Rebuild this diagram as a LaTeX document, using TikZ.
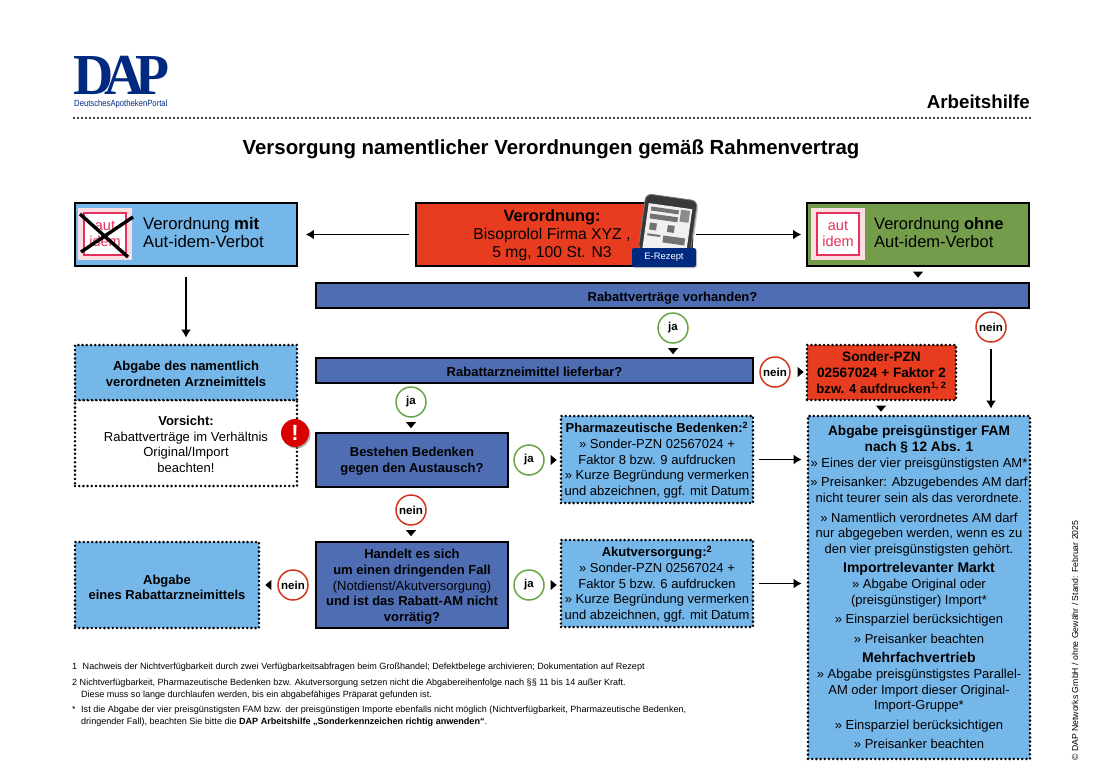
\documentclass[tikz,border=0pt]{standalone}
\usepackage{fontspec}
\setmainfont{Liberation Sans}
\newfontfamily\logofont{Liberation Serif}
\usepackage{xcolor}
\usetikzlibrary{shapes.geometric,arrows.meta,shadows}
\definecolor{lblue}{HTML}{76B7EA}
\definecolor{dblue}{HTML}{4E6DB3}
\definecolor{rbox}{HTML}{E73C1F}
\definecolor{gbox}{HTML}{739C4B}
\definecolor{nblue}{HTML}{002A7F}
\definecolor{stamp}{HTML}{E6305A}
\newcommand{\fs}[1]{\fontsize{#1}{15.7}\selectfont}
\newcommand{\tp}[1]{\rule{0pt}{#1pt}}
\newcommand{\hd}[1]{{\fs{14}\bfseries #1}}

\begin{document}
\begin{tikzpicture}[
  x=1pt,y=-1pt,>={Latex[length=8pt,width=10pt]},
  box/.style={draw,line width=1.8pt,align=center,inner sep=0pt,font=\fs{13}},
  bar/.style={box,fill=dblue,font=\fs{13}\bfseries},
  dots/.style={box,draw,line width=2.8pt,line cap=round,dash pattern=on 0pt off 4.2pt},
  hell/.style={dots,fill=lblue},
  circ/.style={circle,draw,fill=white,line width=1.5pt,minimum size=30pt,inner sep=0pt,font=\fs{11.5}\bfseries},
  jac/.style={circ,draw=gbox!90!green},
  neinc/.style={circ,draw=rbox!90!black},
  tip/.style={isosceles triangle,isosceles triangle apex angle=80,fill=black,inner sep=0pt,minimum size=6pt},
  arr/.style={->,line width=1.7pt},
  pics/stempel/.style={code={
    \fill[stamp!16] (-27,-26) rectangle (27,26);
    \filldraw[draw=stamp,fill=white,line width=1.8pt] (-21,-21) rectangle (21,21);
    \node[align=center,text=stamp,font=\fontsize{14.5}{16}\selectfont] (-t) {aut\\idem};
  }}]
\useasboundingbox (0,0) rectangle (1100,777);

% head
\node[anchor=south west,inner sep=0pt,text depth=0pt,text height=38pt,text=nblue,font=\logofont\bfseries\fontsize{58}{58}\selectfont] (logo) at (73,95) {\scalebox{.96}[1]{D\kern-9ptA\kern-10ptP}};
\node[anchor=west,inner sep=0pt,text=nblue,font=\fs{9}] (portal) at (74,104.5) {\scalebox{.855}[1]{DeutschesApothekenPortal}};
\node[anchor=east,inner sep=0pt,font=\fs{18.7}\bfseries] (hilfe) at (1030,102) {Arbeitshilfe};
\coordinate (l1) at (74,118); \coordinate (l2) at (1031,118);
\draw[line width=2.4pt,line cap=round,dash pattern=on 0pt off 4pt] (l1)--(l2);
\node[inner sep=0pt,font=\fs{20.4}\bfseries] (title) at (551,149) {Versorgung namentlicher Verordnungen gemäß Rahmenvertrag};

% top row
\node[box,fill=lblue,minimum width=222pt,minimum height=63pt] (mit) at (186,234.5) {};
\node[box,fill=rbox,minimum width=276pt,minimum height=63pt] (vo) at (554,234.5) {};
\node[box,fill=gbox,minimum width=222pt,minimum height=63pt] (ohne) at (918,234.5) {};
\pic (sa) at (105,234) {stempel};
\draw[line width=3.4pt] (81,252)--(133,217) (80,214)--(128,257);
\pic (sb) at (838,234) {stempel};
\node[anchor=west,align=left,inner sep=0pt,font=\fontsize{16.7}{18}\selectfont] (mitt) at (143,233) {Verordnung \textbf{mit}\\Aut-idem-Verbot};
\node[anchor=west,align=left,inner sep=0pt,font=\fontsize{16.5}{18}\selectfont] (ohnet) at (874,233) {Verordnung \textbf{ohne}\\Aut-idem-Verbot};
\node[align=center,inner sep=0pt,font=\fontsize{15.7}{18}\selectfont] (vot) at (552,235) {\textbf{\fontsize{16.3}{18}\selectfont Verordnung:}\\Bisoprolol Firma XYZ ,\\5 mg, 100 St. N3};

% phone
\begin{scope}[shift={(668,224)},rotate=-8]
  \filldraw[draw=black!50,fill=black!78,rounded corners=6pt,line width=.8pt,drop shadow={shadow xshift=1.5pt,shadow yshift=-1.5pt,opacity=.4}] (-26,-27) rectangle (26,30);
  \fill[black!6] (-22,-18) rectangle (22,30);
  \fill[black!55] (-19,-15) rectangle (9,-11) (-19,-8) rectangle (9,-3) (-18,1) rectangle (-11,8) (0,1) rectangle (7,8) (-3,12) rectangle (19,19) (-19,12) rectangle (-6,14);
  \fill[black!45] (11,-16) rectangle (20,-4);
\end{scope}
\node[fill=nblue,text=white,rounded corners=2pt,minimum width=64pt,minimum height=19pt,inner sep=0pt,font=\fs{9.4},drop shadow={shadow xshift=1pt,shadow yshift=-1pt,opacity=.4}] (erez) at (664,257.5) {E-Rezept};

% left side
\node[dots,minimum width=222pt,minimum height=86pt] (vors) at (186,443) {\tp{12}\textbf{Vorsicht:}\\Rabattverträge im Verhältnis\\Original/Import\\beachten!};
\node[hell,minimum width=222pt,minimum height=55pt,font=\fs{13}\bfseries] (nam) at (186,372.5) {\tp{12}Abgabe des namentlich\\verordneten Arzneimittels};
\node[hell,minimum width=184pt,minimum height=86pt,font=\fs{13}\bfseries] (rab) at (167,585) {\tp{14}Abgabe\\eines Rabattarzneimittels};
\node[circle,fill=red!85!black,minimum size=28pt,inner sep=0pt,text=white,font=\fs{22}\bfseries,drop shadow={shadow xshift=1.5pt,shadow yshift=-1.5pt,opacity=.6}] (warn) at (295,433) {!};

% middle
\node[bar,minimum width=713pt,minimum height=25pt] (rv) at (672.5,295.5) {\tp{14}Rabattverträge vorhanden?};
\node[bar,minimum width=437pt,minimum height=25pt] (rl) at (534.5,370.5) {\tp{12}Rabattarzneimittel lieferbar?};
\node[bar,minimum width=192pt,minimum height=54pt] (bed) at (412,460) {\tp{12}Bestehen Bedenken\\gegen den Austausch?};
\node[bar,minimum width=192pt,minimum height=86pt] (fall) at (412,585) {\tp{13}Handelt es sich\\um einen dringenden Fall\\\mdseries(Notdienst/Akutversorgung)\\und ist das Rabatt-AM nicht\\vorrätig?};
\node[hell,minimum width=192pt,minimum height=87pt] (phb) at (657,459.5) {\tp{12}\textbf{Pharmazeutische Bedenken:\textsuperscript{2}}\\» Sonder-PZN 02567024 +\\Faktor 8 bzw. 9 aufdrucken\\» Kurze Begründung vermerken\\und abzeichnen, ggf. mit Datum};
\node[hell,minimum width=192pt,minimum height=87pt] (akv) at (657,583.5) {\tp{12}\textbf{Akutversorgung:\textsuperscript{2}}\\» Sonder-PZN 02567024 +\\Faktor 5 bzw. 6 aufdrucken\\» Kurze Begründung vermerken\\und abzeichnen, ggf. mit Datum};

% right
\node[dots,fill=rbox,minimum width=149pt,minimum height=55pt,font=\fs{13.6}\bfseries] (pzn) at (881.5,372.5) {Sonder-PZN\\02567024 + Faktor 2\\\fs{13.1}bzw. 4 aufdrucken\textsuperscript{1, 2}};
\node[hell,minimum width=222pt,minimum height=343pt] (fam) at (919,587.5) {{\fs{13.7}\bfseries Abgabe preisgünstiger FAM}\\{\fs{13.7}\bfseries nach § 12 Abs. 1}\\» Eines der vier preisgünstigsten AM*\\[3.8pt]» Preisanker: Abzugebendes AM darf\\nicht teurer sein als das verordnete.\\[3.8pt]» Namentlich verordnetes AM darf\\nur abgegeben werden, wenn es zu\\den vier preisgünstigsten gehört.\\[3.8pt]\hd{Importrelevanter Markt}\\» Abgabe Original oder\\(preisgünstiger) Import*\\[3.8pt]» Einsparziel berücksichtigen\\[3.8pt]» Preisanker beachten\\[3.8pt]\hd{Mehrfachvertrieb}\\» Abgabe preisgünstigstes Parallel-\\AM oder Import dieser Original-\\Import-Gruppe*\\[3.8pt]» Einsparziel berücksichtigen\\[3.8pt]» Preisanker beachten};

% ja / nein
\node[jac] (ja1) at (673,328) {ja};
\node[neinc] (ne1) at (991,327) {nein};
\node[neinc] (ne2) at (775,372) {nein};
\node[jac] (ja2) at (411,402) {ja};
\node[jac] (ja3) at (529,460) {ja};
\node[neinc] (ne3) at (411,510) {nein};
\node[jac] (ja4) at (529,585) {ja};
\node[neinc] (ne4) at (293,585) {nein};

% small tips
\node[tip,shape border rotate=-90] (t1) at (918,274) {};
\node[tip,shape border rotate=-90] (t2) at (673,350.5) {};
\node[tip] (t3) at (800,372) {};
\node[tip,shape border rotate=-90] (t4) at (881,408) {};
\node[tip,shape border rotate=-90] (t5) at (411,424.5) {};
\node[tip] (t6) at (553,460) {};
\node[tip,shape border rotate=-90] (t7) at (411,532.5) {};
\node[tip] (t8) at (553,585) {};
\node[tip,shape border rotate=180] (t9) at (269,585) {};

% arrows
\draw[arr,shorten <=6pt,shorten >=8pt] (vo.west|-mit)--(mit.east);
\draw[arr,shorten >=5pt] (erez.east|-vo)--(ohne.west);
\draw[arr,shorten <=10pt,shorten >=6pt] (mit.south)--(nam.north);
\draw[arr,shorten <=6pt,shorten >=6pt] (ne1.south)--(ne1.south|-fam.north);
\draw[arr,shorten <=5pt,shorten >=5pt] (phb.east)--(fam.west|-phb);
\draw[arr,shorten <=5pt,shorten >=5pt] (akv.east)--(fam.west|-akv);

% notes
\begin{scope}[every node/.style={anchor=west,align=left,inner sep=0pt,font=\fontsize{9.05}{12}\selectfont}]
\node (n1) at (72,667) {1\hspace{3pt} Nachweis der Nichtverfügbarkeit durch zwei Verfügbarkeitsabfragen beim Großhandel; Defektbelege archivieren; Dokumentation auf Rezept};
\node (n2) at (72,689) {2 Nichtverfügbarkeit, Pharmazeutische Bedenken bzw. Akutversorgung setzen nicht die Abgabereihenfolge nach §§ 11 bis 14 außer Kraft.\\\hspace*{9pt}Diese muss so lange durchlaufen werden, bis ein abgabefähiges Präparat gefunden ist.};
\node (n3) at (72,716) {*\hspace{3pt} Ist die Abgabe der vier preisgünstigsten FAM bzw. der preisgünstigen Importe ebenfalls nicht möglich (Nichtverfügbarkeit, Pharmazeutische Bedenken,\\\hspace*{9pt}dringender Fall), beachten Sie bitte die \textbf{DAP Arbeitshilfe „Sonderkennzeichen richtig anwenden“}.};
\end{scope}
\node[rotate=90,anchor=west,inner sep=0pt,font=\fs{8.7}] (copy) at (1075,761) {© DAP Networks GmbH / ohne Gewähr / Stand: Februar 2025};
\end{tikzpicture}
\end{document}
